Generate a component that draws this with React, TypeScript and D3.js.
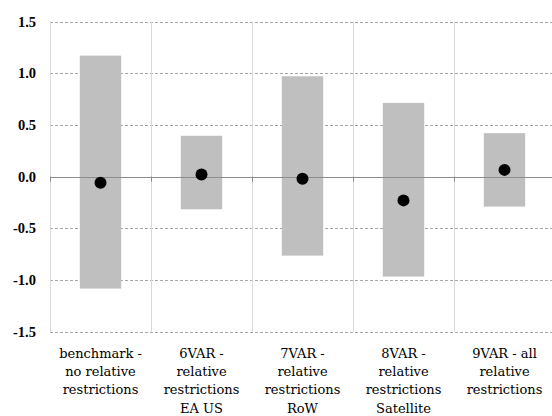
import React from 'react';
import * as d3 from 'd3';

// category labels (one line per array entry)
const categories = [
  ['benchmark -', 'no relative', 'restrictions'],
  ['6VAR -', 'relative', 'restrictions', 'EA US'],
  ['7VAR -', 'relative', 'restrictions', 'RoW'],
  ['8VAR -', 'relative', 'restrictions', 'Satellite'],
  ['9VAR - all', 'relative', 'restrictions'],
];
const upper = [1.17, 0.395, 0.97, 0.713, 0.42];
const lower = [-1.083, -0.316, -0.764, -0.967, -0.29];
const point = [-0.06, 0.02, -0.02, -0.23, 0.065];
const yTicks = [1.5, 1.0, 0.5, 0.0, -0.5, -1.0, -1.5];

const W = 552;
const H = 416;
const margin = { top: 21.5, right: -3, bottom: 84.3, left: 50 };

const fmt = (t: number) => t.toFixed(1);

const App = () => {
  const keys = categories.map((_, i) => String(i));
  const x = d3
    .scaleBand()
    .domain(keys)
    .range([margin.left, W - margin.right])
    .paddingInner(0)
    .paddingOuter(0);
  const y = d3
    .scaleLinear()
    .domain([-1.5, 1.5])
    .range([H - margin.bottom, margin.top]);

  const bw = x.bandwidth();
  const barW = bw * 0.41;
  const x0 = margin.left;
  const x1 = W - margin.right;

  return (
    <svg
      width={W}
      height={H}
      style={{ position: 'absolute', left: 0, top: 0, background: '#fff' }}
    >
      {/* dashed gridlines */}
      {yTicks
        .filter(t => t !== 0)
        .map(t => (
          <line
            key={'g' + t}
            x1={x0}
            x2={x1}
            y1={Math.round(y(t)) + 0.5}
            y2={Math.round(y(t)) + 0.5}
            stroke="#a6a6a6"
            strokeDasharray="3,2"
            strokeWidth={1}
          />
        ))}
      {/* vertical category separators */}
      {keys.map(k => (
        <line
          key={'v' + k}
          x1={Math.round(x(k)!) + 0.5}
          x2={Math.round(x(k)!) + 0.5}
          y1={y(1.5)}
          y2={y(-1.5)}
          stroke="#d9d9d9"
          strokeWidth={1}
        />
      ))}
      {/* range bars */}
      {keys.map((k, i) => (
        <rect
          key={'b' + k}
          x={x(k)! + bw / 2 - barW / 2}
          y={y(upper[i])}
          width={barW}
          height={y(lower[i]) - y(upper[i])}
          fill="#bfbfbf"
        />
      ))}
      {/* zero line with ticks */}
      <line
        x1={x0}
        x2={x1}
        y1={Math.round(y(0)) + 0.5}
        y2={Math.round(y(0)) + 0.5}
        stroke="#8c8c8c"
        strokeWidth={1}
      />
      {keys.map(k => (
        <line
          key={'t' + k}
          x1={Math.round(x(k)!) + 0.5}
          x2={Math.round(x(k)!) + 0.5}
          y1={y(0)}
          y2={y(0) + 5}
          stroke="#8c8c8c"
          strokeWidth={1}
        />
      ))}
      {/* point estimates */}
      {keys.map((k, i) => (
        <circle
          key={'p' + k}
          cx={x(k)! + bw / 2}
          cy={y(point[i])}
          r={6}
          fill="#000"
        />
      ))}
      {/* y tick labels */}
      {yTicks.map(t => (
        <text
          key={'y' + t}
          x={36}
          y={y(t) + 5}
          textAnchor="end"
          fontFamily="Liberation Serif"
          fontWeight="bold"
          fontSize={14.5}
          fill="#000"
        >
          {fmt(t)}
        </text>
      ))}
      {/* category labels */}
      {keys.map((k, i) => (
        <text
          key={'c' + k}
          textAnchor="middle"
          fontFamily="DejaVu Serif"
          fontSize={13}
          fill="#000"
        >
          {categories[i].map((line, j) => (
            <tspan key={j} x={x(k)! + bw / 2} y={358 + j * 18.2}>
              {line}
            </tspan>
          ))}
        </text>
      ))}
    </svg>
  );
};

export default App;
